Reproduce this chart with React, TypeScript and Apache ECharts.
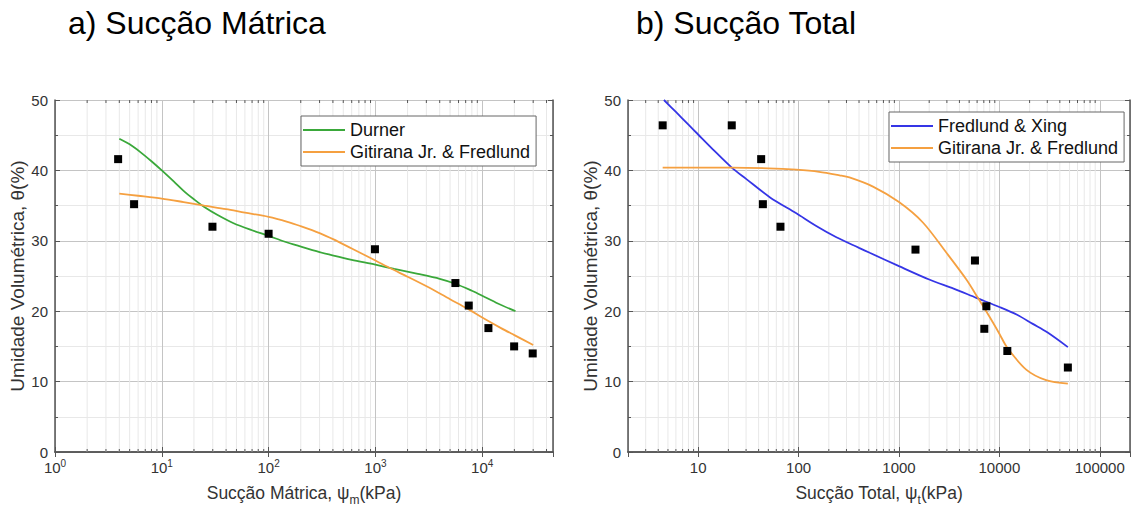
import React, { useEffect, useRef } from 'react';
import * as echarts from 'echarts';

const FONT = '"Liberation Sans", Arial, sans-serif';

// ---- a) Sucção Mátrica ----
const MATRIC_SUCTION = [3.9, 5.5, 29.8, 100, 990, 5610, 7480, 11430, 19900, 29700];
const MATRIC_THETA = [41.6, 35.2, 32.0, 31.0, 28.8, 24.0, 20.8, 17.6, 15.0, 14.0];

const DURNER_X = [4, 5, 6.3, 8, 10, 13, 16, 20, 25, 33, 47, 70, 100, 140, 198, 300, 406, 600, 1000, 1500, 2500, 4000, 5610, 8000, 10000, 14000, 20470];
const DURNER_Y = [44.5, 43.7, 42.6, 41.3, 40.0, 38.4, 37.1, 35.9, 34.8, 33.7, 32.5, 31.5, 30.7, 29.9, 29.2, 28.4, 27.9, 27.3, 26.6, 26.0, 25.3, 24.6, 23.9, 22.9, 22.2, 21.1, 20.0];

const GF_MATRIC_X = [4, 6, 10, 16, 25, 40, 60, 100, 150, 198, 300, 406, 600, 1000, 1380, 2000, 3043, 5000, 7210, 10000, 15000, 20000, 30000];
const GF_MATRIC_Y = [36.7, 36.4, 36.0, 35.5, 35.0, 34.5, 34.0, 33.4, 32.7, 32.1, 31.1, 30.2, 28.9, 27.2, 26.1, 24.9, 23.5, 21.7, 20.4, 19.1, 17.6, 16.6, 15.2];

// ---- b) Sucção Total ----
const TOTAL_SUCTION = [4.43, 21.6, 42.4, 44.1, 66, 1460, 5710, 7080, 7420, 12000, 48100];
const TOTAL_THETA = [46.4, 46.4, 41.6, 35.2, 32.0, 28.75, 27.2, 17.5, 20.7, 14.35, 12.0];

const FX_X = [4.56, 6, 8, 10, 14, 21.6, 30, 51.6, 95, 150, 238, 400, 511, 1000, 2000, 3500, 5890, 10000, 15000, 21500, 30000, 48100];
const FX_Y = [50, 48.3, 46.5, 45.1, 43.0, 40.4, 38.8, 36.2, 33.9, 32.1, 30.5, 29.0, 28.3, 26.4, 24.5, 23.2, 21.9, 20.6, 19.5, 18.2, 17.0, 14.9];

const GF_TOTAL_X = [4.43, 10, 21.6, 50, 95, 160, 256, 321, 551, 1000, 1730, 2970, 4690, 6110, 7980, 10000, 12000, 18500, 29200, 48100];
const GF_TOTAL_Y = [40.4, 40.4, 40.4, 40.3, 40.1, 39.8, 39.3, 39.0, 37.7, 35.5, 32.6, 28.3, 24.5, 21.9, 19.2, 16.8, 14.8, 11.7, 10.2, 9.7];

// minor tick values on the log axes
const MINOR_A = [2, 3, 4, 5, 6, 7, 8, 9, 20, 30, 40, 50, 60, 70, 80, 90, 200, 300, 400, 500, 600, 700, 800, 900, 2000, 3000, 4000, 5000, 6000, 7000, 8000, 9000, 20000, 30000, 40000];
const MINOR_B = [3, 4, 5, 6, 7, 8, 9, 20, 30, 40, 50, 60, 70, 80, 90, 200, 300, 400, 500, 600, 700, 800, 900, 2000, 3000, 4000, 5000, 6000, 7000, 8000, 9000, 20000, 30000, 40000, 50000, 60000, 70000, 80000, 90000];

const zip = (xs: number[], ys: number[]) => xs.map((x, i) => [x, ys[i]]);

const AXIS_COLOR = '#555';
const LABEL_COLOR = '#333';
const MAJOR_GRID = '#c4c4c4';
const MINOR_GRID = '#e8e8e8';
const GREEN = '#3aa83a';
const ORANGE = '#f5a040';
const BLUE = '#3535e6';

function xAxes(gridIndex: number, min: number, max: number, name: string, formatter: any, rich: any, showMin: boolean, margin: number) {
  return [
    {
      type: 'log', logBase: 10, gridIndex, min, max, position: 'bottom',
      axisLine: { show: true, lineStyle: { color: AXIS_COLOR, width: 1.5 } },
      axisTick: { show: true, inside: true, length: 5, lineStyle: { color: AXIS_COLOR } },
      splitLine: { show: true, lineStyle: { color: MAJOR_GRID, width: 1 } },
      axisLabel: { show: true, margin, color: LABEL_COLOR, fontSize: 15, fontFamily: FONT, showMaxLabel: false, showMinLabel: showMin, formatter, rich },
      name, nameLocation: 'middle', nameGap: 32,
      nameTextStyle: {
        fontFamily: FONT, color: LABEL_COLOR,
        rich: {
          a: { fontSize: 17.5, fontFamily: FONT, color: LABEL_COLOR, lineHeight: 20, verticalAlign: 'top' },
          sub: { fontSize: 12, fontFamily: FONT, color: LABEL_COLOR, lineHeight: 12, padding: [10, 0, 0, 0], verticalAlign: 'top' },
        },
      },
    },
    {
      type: 'log', logBase: 10, gridIndex, min, max, position: 'top',
      axisLine: { show: true, lineStyle: { color: AXIS_COLOR, width: 1.5 } },
      axisTick: { show: true, inside: true, length: 5, lineStyle: { color: AXIS_COLOR } },
      splitLine: { show: false },
      axisLabel: { show: false },
    },
  ];
}

function yAxes(gridIndex: number) {
  const common = {
    type: 'value', gridIndex, min: 0, max: 50, interval: 10,
    axisLine: { show: true, lineStyle: { color: AXIS_COLOR, width: 1.5 } },
    axisTick: { show: true, inside: true, length: 5, lineStyle: { color: AXIS_COLOR } },
    minorTick: { show: true, splitNumber: 2, length: 3, lineStyle: { color: AXIS_COLOR } },
  };
  return [
    {
      ...common, position: 'left',
      splitLine: { show: true, lineStyle: { color: MAJOR_GRID, width: 1 } },
      minorSplitLine: { show: true, lineStyle: { color: MINOR_GRID, width: 1 } },
      axisLabel: { show: true, margin: 7, color: LABEL_COLOR, fontSize: 15, fontFamily: FONT },
      name: 'Umidade Volumétrica, θ(%)', nameLocation: 'middle', nameGap: 28,
      nameTextStyle: { fontSize: 19, fontFamily: FONT, color: LABEL_COLOR },
    },
    {
      ...common, position: 'right',
      splitLine: { show: false },
      axisLabel: { show: false },
    },
  ];
}

function minorGridSeries(values: number[], xAxisIndex: number, yAxisIndex: number) {
  return {
    type: 'custom', xAxisIndex, yAxisIndex, silent: true, z: 1, clip: false,
    data: values.map((v) => [v, 0]),
    encode: { x: 0, y: 1 },
    renderItem: (params: any, api: any) => {
      const v = api.value(0);
      const b = api.coord([v, 0]);
      const t = api.coord([v, 50]);
      const tickStyle = { stroke: AXIS_COLOR, lineWidth: 1 };
      return {
        type: 'group',
        children: [
          { type: 'line', shape: { x1: b[0], y1: b[1], x2: t[0], y2: t[1] }, style: { stroke: MINOR_GRID, lineWidth: 1 } },
          { type: 'line', shape: { x1: b[0], y1: b[1], x2: b[0], y2: b[1] - 3 }, style: tickStyle },
          { type: 'line', shape: { x1: t[0], y1: t[1], x2: t[0], y2: t[1] + 3 }, style: tickStyle },
        ],
      };
    },
  };
}

function curve(name: string, xs: number[], ys: number[], color: string, xAxisIndex: number, yAxisIndex: number) {
  return {
    type: 'line', name, xAxisIndex, yAxisIndex, data: zip(xs, ys),
    smooth: 0.3, symbol: 'none', showSymbol: false, z: 3,
    lineStyle: { color, width: 1.8 }, itemStyle: { color },
  };
}

function points(xs: number[], ys: number[], xAxisIndex: number, yAxisIndex: number) {
  return {
    type: 'scatter', name: 'dados', xAxisIndex, yAxisIndex, data: zip(xs, ys),
    symbol: 'rect', symbolSize: 8, z: 5, itemStyle: { color: '#000', opacity: 1 },
  };
}

function legend(left: number, top: number, names: string[]) {
  return {
    show: true, orient: 'vertical', left, top, data: names,
    backgroundColor: '#fff', borderColor: '#666', borderWidth: 1, borderRadius: 0,
    padding: [5, 6, 5, 2], itemGap: 4, itemWidth: 42, itemHeight: 2, icon: 'rect',
    selectedMode: false,
    textStyle: { fontSize: 18, fontFamily: FONT, color: '#111', lineHeight: 18 },
  };
}

const option: any = {
  animation: false,
  backgroundColor: '#fff',
  textStyle: { fontFamily: FONT },
  title: [
    { text: 'a) Sucção Mátrica', left: 68, top: 7, padding: 0, textStyle: { fontSize: 32, fontWeight: 'normal', fontFamily: FONT, color: '#000' } },
    { text: 'b) Sucção Total', left: 636, top: 7, padding: 0, textStyle: { fontSize: 32, fontWeight: 'normal', fontFamily: FONT, color: '#000' } },
  ],
  grid: [
    { left: 55, top: 100, width: 498, height: 352, outerBoundsMode: 'none', containLabel: false },
    { left: 628, top: 100, width: 502, height: 352, outerBoundsMode: 'none', containLabel: false },
  ],
  xAxis: [
    ...xAxes(0, 1, 46000, '{a|Sucção Mátrica, ψ}{sub|m}{a|(kPa)}',
      (v: number) => `{b|10}{s|${Math.round(Math.log10(v))}}`,
      {
        b: { fontSize: 15, fontFamily: FONT, color: LABEL_COLOR, lineHeight: 19 },
        s: { fontSize: 10, fontFamily: FONT, color: LABEL_COLOR, verticalAlign: 'top', lineHeight: 10 },
      }, true, 6),
    ...xAxes(1, 2, 200000, '{a|Sucção Total, ψ}{sub|t}{a|(kPa)}',
      (v: number) => String(Math.round(v)), undefined, false, 8),
  ],
  yAxis: [...yAxes(0), ...yAxes(1)],
  legend: [
    legend(301, 116, ['Durner', 'Gitirana Jr. & Fredlund']),
    legend(889, 112, ['Fredlund & Xing', 'Gitirana Jr. & Fredlund']),
  ],
  series: [
    minorGridSeries(MINOR_A, 0, 0),
    curve('Durner', DURNER_X, DURNER_Y, GREEN, 0, 0),
    curve('Gitirana Jr. & Fredlund', GF_MATRIC_X, GF_MATRIC_Y, ORANGE, 0, 0),
    points(MATRIC_SUCTION, MATRIC_THETA, 0, 0),
    minorGridSeries(MINOR_B, 2, 2),
    curve('Fredlund & Xing', FX_X, FX_Y, BLUE, 2, 2),
    curve('Gitirana Jr. & Fredlund', GF_TOTAL_X, GF_TOTAL_Y, ORANGE, 2, 2),
    points(TOTAL_SUCTION, TOTAL_THETA, 2, 2),
  ],
};

export default function App() {
  const ref = useRef<HTMLDivElement>(null);
  useEffect(() => {
    const chart = echarts.init(ref.current!, null, { renderer: 'svg' });
    chart.setOption(option);
    return () => chart.dispose();
  }, []);
  return <div ref={ref} style={{ position: 'absolute', left: 0, top: 0, width: 1132, height: 506 }} />;
}
